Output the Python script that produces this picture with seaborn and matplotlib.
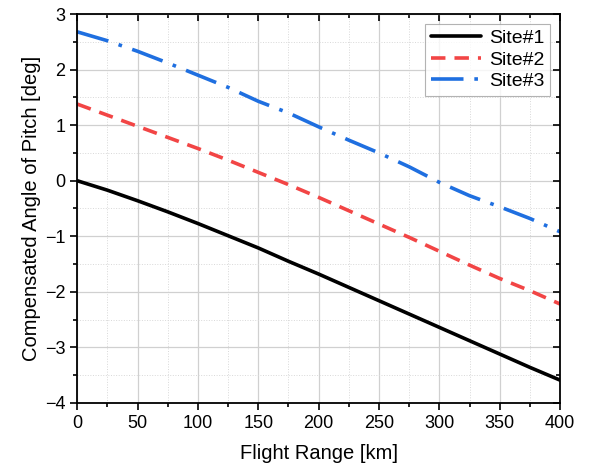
import numpy as np
import pandas as pd
import matplotlib
matplotlib.use("Agg")
import matplotlib.pyplot as plt
import seaborn as sns
from matplotlib.ticker import MultipleLocator

# values
flight_range = [0, 25, 50, 75, 100, 125, 150, 175, 200, 225, 250, 275, 300, 325, 350, 375, 400]
site1 = [0.0, -0.17, -0.36, -0.56, -0.77, -0.99, -1.21, -1.45, -1.68, -1.92, -2.16, -2.40, -2.64, -2.88, -3.12, -3.36, -3.59]
site2 = [1.38, 1.18, 0.98, 0.78, 0.58, 0.37, 0.15, -0.07, -0.30, -0.54, -0.78, -1.02, -1.27, -1.52, -1.76, -1.98, -2.22]
site3 = [2.68, 2.52, 2.33, 2.12, 1.90, 1.68, 1.43, 1.22, 0.97, 0.73, 0.50, 0.25, -0.03, -0.27, -0.47, -0.68, -0.92]
sites = ["Site#1", "Site#2", "Site#3"]

df = pd.DataFrame({
    "Range": flight_range * 3,
    "Angle": site1 + site2 + site3,
    "Site": np.repeat(sites, len(flight_range)),
})

sns.set_style("white")
plt.rcParams["font.family"] = ["Liberation Sans", "DejaVu Sans"]
plt.rcParams["text.color"] = "black"
plt.rcParams["axes.labelcolor"] = "black"
plt.rcParams["xtick.color"] = "black"
plt.rcParams["ytick.color"] = "black"

fig = plt.figure(figsize=(5.89, 4.68), dpi=100)
ax = fig.add_axes([0.131, 0.139, 0.82, 0.831])

palette = {"Site#1": "#000000", "Site#2": "#f24545", "Site#3": "#1f6fe0"}
dashes = {"Site#1": "", "Site#2": (4, 2.5), "Site#3": (9, 3, 1, 3)}
sns.lineplot(data=df, x="Range", y="Angle", hue="Site", style="Site",
             palette=palette, dashes=dashes, linewidth=2.6, ax=ax)

ax.set_xlim(0, 400)
ax.set_ylim(-4, 3)
ax.xaxis.set_major_locator(MultipleLocator(50))
ax.xaxis.set_minor_locator(MultipleLocator(25))
ax.yaxis.set_major_locator(MultipleLocator(1))
ax.yaxis.set_minor_locator(MultipleLocator(0.5))
ax.grid(which="major", color="#d0d0d0", linewidth=0.9, linestyle="-")
ax.grid(which="minor", color="#d8d8d8", linewidth=0.7, linestyle=":")
ax.set_axisbelow(True)

for s in ax.spines.values():
    s.set_linewidth(1.3)
    s.set_color("black")
ax.tick_params(which="both", direction="out", width=1.2, labelsize=13,
               bottom=True, left=True)
ax.tick_params(which="major", length=5)
ax.tick_params(which="minor", length=3)
ax.tick_params(which="both", top=True, right=True, labeltop=False, labelright=False)
# mirror ticks point inward on top and right
for t in ax.xaxis.get_ticklines(minor=False)[1::2] + ax.xaxis.get_ticklines(minor=True)[1::2]:
    t.set_marker(3)
for t in ax.yaxis.get_ticklines(minor=False)[1::2] + ax.yaxis.get_ticklines(minor=True)[1::2]:
    t.set_marker(0)

ax.set_xlabel("Flight Range [km]", fontsize=14.5, labelpad=9)
ax.set_ylabel("Compensated Angle of Pitch [deg]", fontsize=14.5, labelpad=3)

leg = ax.legend(loc="upper right", fontsize=14, frameon=True, fancybox=False,
                handlelength=2.6, borderpad=0.3, labelspacing=0.2,
                handletextpad=0.4, borderaxespad=0.5)
leg.get_frame().set_edgecolor("#a0a0a0")
leg.get_frame().set_linewidth(0.8)
for line in leg.get_lines():
    line.set_linewidth(2.6)

fig.savefig("out.png", dpi=100)
